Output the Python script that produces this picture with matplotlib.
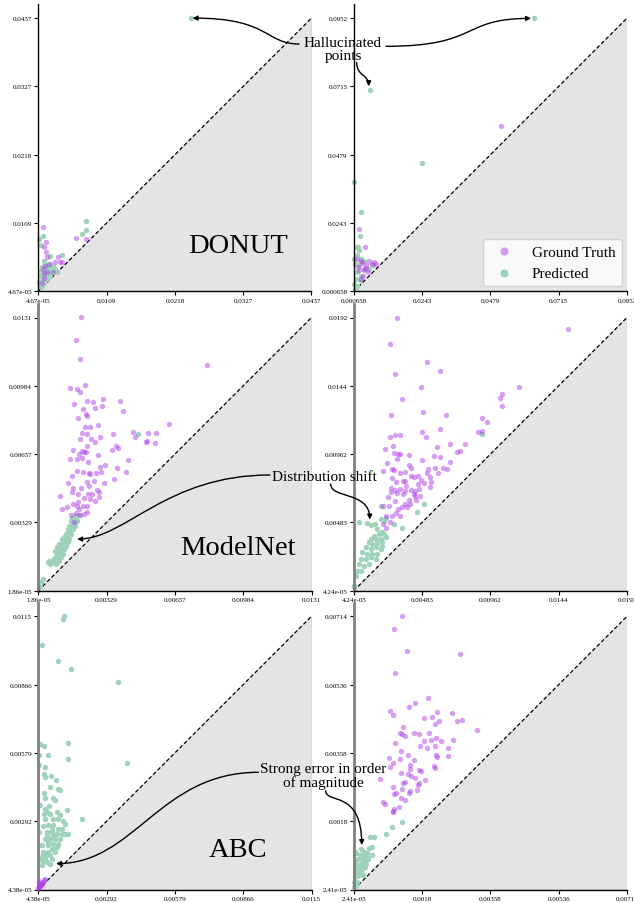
import numpy as np
import matplotlib
matplotlib.use('Agg')
import matplotlib.pyplot as plt
import matplotlib.transforms as mtransforms
from matplotlib.path import Path
from matplotlib.patches import FancyArrowPatch

plt.rcParams['font.family'] = ['Liberation Serif', 'DejaVu Serif']

# ---------------------------------------------------------------
# persistence pairs (birth, death), values in units of 1e-3
# ---------------------------------------------------------------
donut_gt = [[0.85, 10.3], [1.22, 7.9], [1.00, 7.1], [6.0, 8.6], [7.6, 8.4], [3.2, 5.6],
            [3.8, 4.7], [3.5, 4.8], [1.3, 6.3], [1.4, 5.5], [1.1, 4.1], [0.85, 3.6],
            [2.7, 4.7], [0.58, 1.4], [2.4, 3.1], [1.7, 4.4], [1.0, 3.0], [1.5, 3.2], [0.9, 2.2]]
donut_pred = [[24.5, 43.7], [7.7, 11.3], [7.6, 9.9], [7.0, 9.2], [0.85, 8.9], [0.2, 8.4],
              [0.5, 7.4], [1.9, 5.7], [3.9, 5.8], [1.0, 4.9], [1.38, 4.14], [1.91, 3.88],
              [2.44, 4.14], [2.17, 3.34], [1.64, 3.08], [0.84, 2.81], [0.31, 2.55], [1.11, 2.28],
              [1.91, 2.55], [2.70, 3.50], [0.58, 1.75], [1.38, 2.02], [0.21, 1.48], [0.84, 1.22],
              [1.64, 3.50], [2.97, 3.08], [0.42, 3.34], [1.11, 4.41], [1.91, 2.81], [2.70, 3.61],
              [1.11, 2.02], [0.31, 1.22], [1.91, 4.41], [0.6, 3.9], [1.5, 3.6], [0.7, 1.1],
              [0.4, 0.8], [1.6, 2.3]]

donut2_gt = [[51.7, 57.7], [2.5, 22.3], [4.5, 16.0], [1.9, 11.9], [3.1, 11.3], [6.0, 11.3],
             [7.7, 10.8], [8.3, 10.2], [4.8, 9.6], [4.3, 8.4], [5.4, 7.3], [3.7, 6.1],
             [3.1, 5.0], [2.5, 7.9], [6.8, 10.2], [2.2, 9.0], [5.0, 8.8], [3.5, 10.6]]
donut2_pred = [[63.1, 95.2], [6.2, 70.4], [24.2, 44.9], [0.66, 38.4], [3.1, 28.0], [2.9, 19.8],
               [1.9, 16.0], [2.2, 16.0], [2.5, 14.8], [1.9, 13.1], [3.1, 11.9], [4.3, 11.3],
               [2.5, 9.6], [1.9, 7.3], [1.4, 5.0], [3.1, 6.1], [4.3, 7.9], [6.0, 8.4],
               [7.2, 9.6], [0.8, 3.2], [1.9, 2.6], [1.0, 1.5], [2.8, 4.4], [1.2, 10.0], [0.9, 12.0]]

modelnet_gt = [[2.08, 13.11], [1.84, 12.03], [2.00, 11.11], [8.12, 10.83], [2.24, 9.86], [1.55, 9.73],
               [1.85, 9.67], [2.01, 9.54], [2.33, 9.11], [2.62, 9.06], [3.13, 9.19], [3.94, 9.11],
               [1.73, 8.95], [2.17, 8.71], [2.72, 8.76], [3.05, 8.87], [4.06, 8.63], [2.30, 8.47],
               [2.35, 8.39], [1.90, 8.27], [6.27, 7.99], [2.27, 7.84], [2.49, 7.84], [2.88, 7.95],
               [4.57, 7.63], [4.65, 7.36], [5.27, 7.56], [5.67, 7.55], [3.61, 7.52], [2.11, 7.56],
               [2.36, 7.53], [2.97, 7.40], [2.56, 7.28], [2.03, 7.28], [2.72, 7.15], [2.35, 6.96],
               [1.69, 6.77], [2.13, 6.72], [2.89, 6.51], [3.75, 6.94], [3.54, 6.77], [3.82, 6.83],
               [5.17, 7.15], [5.24, 7.21], [5.63, 7.09], [2.30, 6.64], [2.21, 6.64], [1.95, 6.56],
               [1.54, 6.32], [1.85, 6.32], [2.38, 6.16], [2.11, 6.35], [4.31, 6.26], [2.97, 5.94],
               [3.19, 6.03], [1.89, 5.76], [2.17, 5.71], [2.46, 5.65], [2.80, 5.67], [3.02, 5.68],
               [3.78, 5.87], [4.20, 5.70], [2.49, 5.60], [1.65, 5.52], [2.70, 5.28], [2.35, 5.20],
               [3.66, 5.38], [3.16, 5.16], [1.46, 5.16], [2.43, 5.01], [1.69, 4.96], [2.05, 4.96],
               [2.81, 4.85], [1.63, 4.73], [1.93, 4.65], [2.38, 4.63], [2.57, 4.63], [2.92, 4.73],
               [1.07, 4.57], [2.91, 4.50], [2.21, 4.44], [2.49, 4.41], [2.75, 4.31], [1.92, 4.28],
               [1.66, 4.17], [1.41, 4.02], [1.14, 3.93], [1.89, 4.06], [2.14, 4.09], [2.33, 4.06],
               [2.33, 3.77], [1.82, 3.72], [2.01, 3.64], [2.21, 3.69], [1.98, 3.93], [1.57, 3.64],
               [1.73, 3.32]]
modelnet_pred = [[4.81, 7.52], [1.58, 3.37], [1.66, 3.21], [1.50, 3.13], [1.42, 2.97], [1.69, 2.97],
                 [1.34, 2.73], [1.58, 2.73], [1.26, 2.57], [1.50, 2.49], [1.18, 2.33], [1.42, 2.33],
                 [1.10, 2.17], [1.34, 2.17], [1.02, 2.01], [1.26, 2.01], [0.95, 1.85], [1.18, 1.77],
                 [0.87, 1.69], [1.10, 1.61], [0.79, 1.53], [1.02, 1.46], [0.63, 1.46], [0.71, 1.38],
                 [0.55, 1.46], [0.87, 1.30], [0.23, 0.58], [0.15, 0.42], [0.10, 0.26], [1.74, 3.29],
                 [1.82, 3.45], [1.63, 3.48], [1.79, 3.13], [1.54, 2.89], [1.38, 2.57], [1.15, 2.49],
                 [0.99, 2.25], [0.90, 2.09], [0.83, 1.93], [0.95, 1.61], [1.79, 3.61], [1.98, 3.64],
                 [0.50, 1.38], [0.58, 1.30], [0.74, 1.38], [1.46, 2.81], [1.30, 2.41], [1.06, 1.85],
                 [1.63, 3.05], [1.22, 2.09], [1.85, 3.37]]

modelnet2_gt = [[3.10, 19.20], [15.05, 18.41], [2.61, 17.36], [5.15, 16.10], [2.94, 15.26], [6.09, 15.44],
                [3.40, 13.51], [4.78, 14.30], [11.64, 14.30], [10.40, 13.81], [10.29, 13.55], [10.43, 13.02],
                [4.87, 12.57], [6.48, 12.36], [2.63, 12.36], [9.05, 12.18], [9.38, 11.87], [6.09, 11.41],
                [2.91, 10.96], [3.28, 10.99], [4.85, 11.15], [5.13, 10.80], [8.72, 11.15], [9.03, 11.24],
                [2.61, 10.85], [2.77, 10.19], [6.76, 10.33], [7.86, 10.31], [2.26, 9.98], [5.90, 10.10],
                [7.30, 9.77], [7.51, 9.82], [2.89, 9.68], [3.14, 9.66], [3.28, 9.61], [3.91, 9.56],
                [3.10, 9.31], [4.80, 9.24], [6.76, 9.07], [5.64, 9.49], [6.06, 9.45], [2.37, 8.98],
                [2.70, 8.56], [2.87, 8.51], [3.94, 8.84], [4.08, 8.68], [2.12, 8.47], [3.28, 8.33],
                [3.66, 8.35], [4.29, 8.05], [4.52, 8.07], [5.27, 8.56], [5.71, 8.63], [5.94, 8.33],
                [6.30, 8.63], [6.58, 8.56], [5.41, 8.05], [2.72, 7.98], [4.08, 8.09], [3.63, 7.70],
                [3.03, 7.68], [3.47, 7.74], [4.78, 7.84], [4.99, 7.56], [5.38, 7.32], [4.03, 7.07],
                [4.31, 7.04], [4.64, 7.14], [3.26, 7.16], [2.91, 7.11], [2.63, 7.25], [2.68, 6.93],
                [3.66, 7.04], [3.49, 6.81], [4.24, 6.81], [3.10, 6.86], [2.44, 6.58], [4.68, 6.65],
                [3.91, 6.37], [4.38, 6.37], [2.91, 6.34], [3.61, 6.11], [3.96, 6.11], [3.42, 5.88],
                [3.80, 5.88], [2.54, 5.99], [2.09, 5.99], [3.14, 5.76], [3.00, 5.52], [2.72, 5.29],
                [2.33, 5.29], [3.28, 5.29], [2.61, 4.87], [2.30, 4.45], [2.09, 4.71], [4.31, 6.69],
                [5.17, 8.33], [5.48, 7.63], [3.73, 7.39], [4.54, 7.51]]
modelnet2_pred = [[9.05, 11.03], [1.93, 5.99], [4.50, 5.57], [4.96, 6.15], [0.41, 4.87], [0.95, 4.76],
                  [1.23, 4.64], [1.51, 4.71], [1.93, 5.06], [2.16, 4.94], [2.28, 5.11], [1.70, 4.36],
                  [2.05, 4.13], [1.82, 4.01], [1.47, 3.89], [1.23, 3.66], [1.58, 3.66], [1.93, 3.66],
                  [1.12, 3.43], [1.35, 3.31], [1.70, 3.38], [2.05, 3.43], [0.88, 3.08], [1.23, 2.96],
                  [1.58, 3.08], [1.93, 2.96], [0.65, 2.73], [1.00, 2.61], [1.35, 2.61], [1.70, 2.61],
                  [0.53, 2.26], [0.88, 2.26], [1.23, 2.38], [1.58, 2.26], [0.41, 1.91], [0.77, 1.79],
                  [1.12, 1.91], [0.30, 1.44], [0.53, 1.44], [0.18, 1.09], [0.07, 0.39], [2.87, 4.71],
                  [3.45, 4.41], [2.16, 4.01], [2.28, 3.78], [2.05, 3.19], [0.04, 0.35]]

abc_gt = [[0.09, 0.16], [0.14, 0.22], [0.18, 0.30], [0.25, 0.37], [0.32, 0.50], [0.08, 0.13],
          [0.20, 0.28], [0.09, 0.30], [0.06, 0.39], [0.12, 0.18], [0.06, 0.22], [0.28, 0.43],
          [0.05, 0.10]]
abc_pred = [[1.13, 11.50], [1.09, 11.40], [0.20, 10.30], [0.85, 9.63], [1.43, 9.29], [3.37, 8.75],
            [0.11, 6.14], [0.30, 6.08], [1.27, 6.19], [0.07, 5.70], [0.44, 5.70], [1.27, 5.53],
            [3.77, 5.35], [0.06, 5.26], [0.31, 5.19], [0.28, 4.88], [0.32, 4.77], [0.56, 4.79],
            [0.78, 4.63], [0.53, 4.35], [0.85, 4.24], [0.95, 4.21], [0.27, 4.11], [0.32, 3.89],
            [0.67, 3.86], [0.74, 3.79], [0.11, 3.58], [0.49, 3.55], [0.32, 3.44], [0.39, 3.30],
            [0.81, 3.30], [1.23, 3.37], [0.30, 3.19], [0.53, 3.19], [0.95, 3.16], [1.86, 2.99],
            [0.32, 3.02], [0.67, 2.98], [0.88, 3.02], [1.09, 2.91], [1.16, 2.81], [0.23, 2.70],
            [0.46, 2.74], [0.67, 2.74], [0.88, 2.60], [1.02, 2.60], [1.30, 2.39], [1.16, 2.39],
            [0.39, 2.46], [0.60, 2.46], [0.81, 2.39], [0.18, 1.90], [0.32, 2.18], [0.53, 2.18],
            [0.74, 2.18], [0.95, 2.18], [0.25, 1.62], [0.46, 1.90], [0.67, 1.97], [0.88, 1.97],
            [0.11, 1.34], [0.32, 1.34], [0.53, 1.48], [0.74, 1.62], [0.18, 1.06], [0.39, 1.20],
            [0.53, 1.13], [0.25, 1.55], [0.46, 1.62], [0.60, 1.76], [0.81, 1.83], [0.67, 2.32],
            [1.02, 2.39], [0.60, 2.60], [0.39, 2.32], [0.18, 1.41], [0.39, 1.48], [0.60, 1.34],
            [0.23, 1.20], [0.46, 2.04], [0.67, 1.76], [0.09, 2.46], [0.14, 1.90]]

abc2_gt = [[1.29, 7.14], [1.08, 6.81], [1.40, 6.23], [2.78, 6.15], [1.10, 5.66], [1.95, 5.01],
           [1.62, 4.89], [1.46, 4.79], [0.97, 4.68], [1.04, 4.56], [2.20, 4.66], [2.58, 4.62],
           [1.85, 4.50], [2.07, 4.53], [2.25, 4.41], [2.13, 4.33], [2.71, 4.42], [2.84, 4.44],
           [3.23, 4.18], [1.31, 4.26], [1.22, 4.10], [1.29, 4.07], [1.36, 4.03], [1.60, 4.09],
           [1.71, 4.07], [1.98, 4.11], [2.62, 3.93], [1.10, 3.85], [1.85, 3.90], [1.76, 3.77],
           [2.04, 3.91], [2.16, 3.98], [2.29, 3.89], [2.14, 3.76], [2.47, 3.72], [1.26, 3.63],
           [1.43, 3.53], [1.59, 3.40], [1.94, 3.71], [2.48, 3.50], [2.17, 3.54], [2.20, 3.48],
           [0.94, 3.45], [1.23, 3.43], [1.48, 3.26], [1.72, 3.13], [1.78, 3.12], [2.11, 3.23],
           [2.14, 3.20], [1.25, 3.06], [1.43, 3.04], [1.51, 2.97], [1.62, 2.92], [1.04, 3.31],
           [0.70, 2.91], [1.31, 2.81], [1.72, 2.81], [1.70, 2.74], [1.87, 2.88], [1.04, 2.70],
           [1.37, 2.82], [1.27, 2.64], [1.48, 2.60], [1.12, 2.55], [1.08, 2.51], [1.45, 2.54],
           [1.25, 2.41], [1.67, 2.62], [1.36, 2.36], [0.79, 2.30], [0.84, 2.25], [1.21, 2.18],
           [1.06, 2.13], [1.04, 2.06], [1.04, 2.03], [0.97, 3.22], [1.50, 3.15]]
abc2_pred = [[1.29, 1.78], [1.02, 1.65], [0.85, 1.48], [0.44, 1.38], [0.54, 1.38], [0.49, 1.14],
             [0.43, 1.11], [0.50, 0.92], [0.21, 1.08], [0.09, 0.97], [0.18, 0.92], [0.27, 0.92],
             [0.36, 0.88], [0.14, 0.83], [0.27, 0.79], [0.09, 0.70], [0.22, 0.70], [0.31, 0.75],
             [0.05, 0.62], [0.18, 0.57], [0.31, 0.62], [0.09, 0.49], [0.22, 0.49], [0.05, 0.36],
             [0.14, 0.37], [0.27, 0.40], [0.03, 0.22], [0.12, 0.22], [0.03, 0.09], [0.09, 0.14],
             [0.36, 0.97], [0.40, 0.83], [0.12, 0.60], [0.25, 0.55], [0.15, 0.45], [0.05, 0.80],
             [0.20, 0.85], [0.35, 0.70], [0.06, 1.00], [0.30, 1.00]]

# axis range (min, max) and tick labels of each panel
limits = [(4.67e-05, 0.0437), (0.000658, 0.0952),
          (1.86e-05, 0.0131), (4.24e-05, 0.0192),
          (4.38e-05, 0.0115), (2.41e-05, 0.00714)]
tick_labels = [['4.67e-05', '0.0109', '0.0218', '0.0327', '0.0437'],
               ['0.000658', '0.0243', '0.0479', '0.0715', '0.0952'],
               ['1.86e-05', '0.00329', '0.00657', '0.00984', '0.0131'],
               ['4.24e-05', '0.00483', '0.00962', '0.0144', '0.0192'],
               ['4.38e-05', '0.00292', '0.00579', '0.00866', '0.0115'],
               ['2.41e-05', '0.0018', '0.00358', '0.00536', '0.00714']]
gt_sets = [donut_gt, donut2_gt, modelnet_gt, modelnet2_gt, abc_gt, abc2_gt]
pred_sets = [donut_pred, donut2_pred, modelnet_pred, modelnet2_pred, abc_pred, abc2_pred]
dataset_names = ['DONUT', 'ModelNet', 'ABC']

PURPLE = '#b040e8'
GREEN = '#9fd2bb'
W, H = 634, 904

fig = plt.figure(figsize=(W / 100, H / 100), dpi=100)
# pixel coordinates measured from the top-left corner of the figure
px = mtransforms.Affine2D().scale(1 / W, -1 / H).translate(0, 1) + fig.transFigure

col_x = [38.3, 353.8]
row_bottom = [292.3, 591.7, 890.5]
side = 273.2
pad = 0.05

axes = []
for i in range(6):
    r, c = divmod(i, 2)
    rect = [col_x[c] / W, (H - row_bottom[r]) / H, side / W, side * (1 + pad) / H]
    ax = fig.add_axes(rect)
    lo, hi = limits[i]
    gt = np.array(gt_sets[i]) * 1e-3
    pred = np.array(pred_sets[i]) * 1e-3

    # region below the diagonal
    ax.fill([lo, hi, hi], [lo, hi, lo], facecolor='#e4e4e4', edgecolor='#d4d4d4',
            lw=0.6, zorder=0)
    ax.plot([lo, hi], [lo, hi], color='black', lw=0.9, ls=(0, (3, 2)), zorder=1)
    h_pred = ax.scatter(pred[:, 0], pred[:, 1], s=15, color=GREEN, lw=0, zorder=2,
                        clip_on=False)
    h_gt = ax.scatter(gt[:, 0], gt[:, 1], s=15, color=PURPLE, alpha=0.5, lw=0, zorder=3,
                      clip_on=False)

    ax.set_xlim(lo, hi)
    ax.set_ylim(lo, hi + pad * (hi - lo))
    ticks = np.linspace(lo, hi, 5)
    ax.set_xticks(ticks, tick_labels[i])
    ax.set_yticks(ticks, tick_labels[i])
    ax.tick_params(labelsize=5, length=3, width=0.8, pad=1.5)

    ax.spines['top'].set_visible(False)
    ax.spines['right'].set_visible(False)
    ax.spines['bottom'].set_linewidth(1.0)
    if r == 0:
        ax.spines['left'].set_linewidth(1.0)
    else:
        ax.spines['left'].set_color('#808080')
        ax.spines['left'].set_linewidth(2.0)
    ax.patch.set_alpha(0)
    axes.append(ax)

    if i == 1:
        ax.legend([h_gt, h_pred], ['Ground Truth', 'Predicted'], loc='lower right',
                  fontsize=11, markerscale=1.5, borderaxespad=0.35)

# dataset names
name_pos = [(238.3, 253.3), (238.3, 555.0), (238.5, 856.7)]
for name, (x, y) in zip(dataset_names, name_pos):
    fig.text(x, y, name, transform=px, ha='center', va='baseline', fontsize=20.5)

# annotation texts (one call per line)
notes = [('Hallucinated', 343, 47), ('points', 343, 60),
         ('Distribution shift', 324, 481),
         ('Strong error in order', 323.5, 773.5), ('of magnitude', 323.5, 787)]
for txt, x, y in notes:
    fig.text(x, y, txt, transform=px, ha='center', va='baseline', fontsize=11)

# curved arrows: start (px), target panel, arrow tip (data, 1e-3), tangent mode, bend
arrows = [((299, 45), 0, (24.7, 43.7), 'h', 0.32, 0.73),
          ((386, 47.3), 1, (62.0, 95.1), 'h', 0.65, 0.49),
          ((356.7, 63.5), 1, (5.8, 71.6), 'v', 0.58, 0.5),
          ((270, 476), 2, (1.88, 2.49), 'h', 0.54, 0.25),
          ((330.7, 485), 3, (1.16, 5.03), 'v', 0.42, 0.8),
          ((258.3, 773.3), 4, (0.79, 1.13), 'h', 0.49, 0.39),
          ((325.7, 791.7), 5, (0.23, 1.18), 'v', 0.25, 1.03)]
for start, k, tip, mode, f1, f2 in arrows:
    # arrow tip: data -> display -> figure fraction -> px from top-left
    disp = axes[k].transData.transform((tip[0] * 1e-3, tip[1] * 1e-3))
    fx, fy = fig.transFigure.inverted().transform(disp)
    x3, y3 = fx * W, (1 - fy) * H
    x0, y0 = start
    if mode == 'h':
        p1 = (x0 + f1 * (x3 - x0), y0)
        p2 = (x3 - f2 * (x3 - x0), y3)
    else:
        p1 = (x0, y0 + f1 * (y3 - y0))
        p2 = (x3, y3 - f2 * (y3 - y0))
    path = Path([(x0, y0), p1, p2, (x3, y3)],
                [Path.MOVETO, Path.CURVE4, Path.CURVE4, Path.CURVE4])
    arr = FancyArrowPatch(path=path, arrowstyle='-|>', mutation_scale=7,
                          lw=1.0, color='black', transform=px)
    fig.add_artist(arr)

fig.savefig('out.png', dpi=100)
plt.close(fig)
